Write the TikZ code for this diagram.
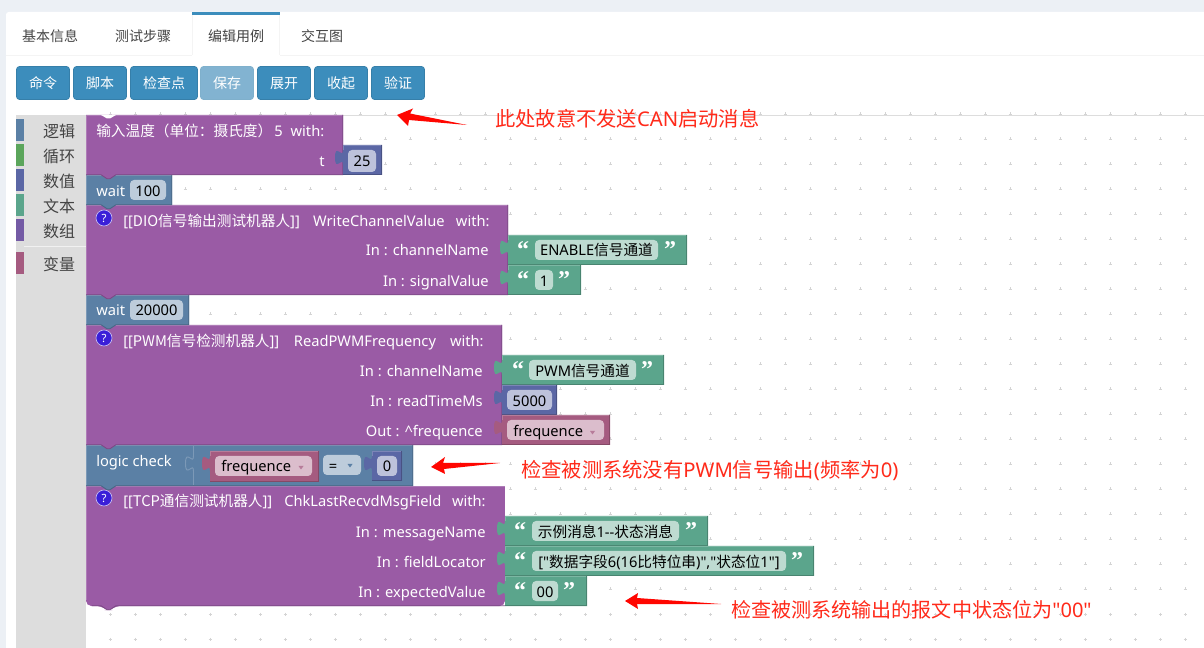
\documentclass[tikz,border=0pt]{standalone}
\usepackage{fontspec}
\setmainfont{Noto Sans}
\newfontfamily\plainlatin{Noto Sans}
\newfontfamily\cjk{Noto Sans CJK SC}
\newfontfamily\quotefont{Liberation Serif}[BoldFont={Liberation Serif Bold}]
\newcommand{\zh}[1]{{\cjk #1}}
\definecolor{pageBg}{HTML}{ECF0F5}
\definecolor{tabLine}{HTML}{F4F4F4}
\definecolor{btnBlue}{HTML}{3C8DBC}
\definecolor{btnEdge}{HTML}{367FA9}
\definecolor{btnPale}{HTML}{82B3D1}
\definecolor{btnPaleEdge}{HTML}{7FB0CC}
\definecolor{boxGrey}{HTML}{DDDDDD}
\definecolor{gridDot}{HTML}{D4D4D4}
\definecolor{tabText}{HTML}{444444}
\definecolor{purpleB}{HTML}{9A5BA5}
\definecolor{purpleL}{HTML}{AE7CB7}
\definecolor{purpleD}{HTML}{7B4984}
\definecolor{steelB}{HTML}{5B80A5}
\definecolor{steelL}{HTML}{7C99B7}
\definecolor{steelD}{HTML}{496684}
\definecolor{steelF}{HTML}{BDCCDB}
\definecolor{numB}{HTML}{5B67A5}
\definecolor{numL}{HTML}{7C85B7}
\definecolor{numD}{HTML}{495284}
\definecolor{numF}{HTML}{BDC2DB}
\definecolor{txtB}{HTML}{5BA58C}
\definecolor{txtL}{HTML}{7CB7A3}
\definecolor{txtD}{HTML}{498470}
\definecolor{txtF}{HTML}{BEDBD1}
\definecolor{varB}{HTML}{A55B80}
\definecolor{varL}{HTML}{B77C99}
\definecolor{varD}{HTML}{844966}
\definecolor{varF}{HTML}{DBBDCC}
\definecolor{loopC}{HTML}{5BA55B}
\definecolor{listC}{HTML}{745BA5}
\definecolor{annot}{HTML}{FF2A1A}
\definecolor{helpC}{HTML}{3A1FD8}
\newcommand{\bodyfont}{\plainlatin\fontsize{11}{13}\selectfont}
\tikzset{
  x=0.75pt,y=-0.75pt,
  tabtxt/.style={anchor=base,inner sep=0pt,yshift=-.75pt,text=tabText,font=\fontsize{10.5}{12}\selectfont},
  btn/.style={draw=btnEdge,fill=btnBlue,rounded corners=2.2pt,line width=.5pt},
  btntxt/.style={anchor=base,inner sep=0pt,yshift=-.75pt,text=white,font=\fontsize{10.5}{12}\selectfont},
  toollab/.style={anchor=base,inner sep=0pt,yshift=-1.1pt,text=tabText,font=\fontsize{12}{14}\selectfont},
  wl/.style={anchor=base west,inner sep=0pt,yshift=-.75pt,text=white,font=\bodyfont},
  wr/.style={anchor=base east,inner sep=0pt,yshift=-.75pt,text=white,font=\bodyfont},
  fl/.style={anchor=base,inner sep=0pt,yshift=-.75pt,text=black,font=\bodyfont},
  fw/.style={anchor=base west,inner sep=0pt,yshift=-.75pt,text=black,font=\bodyfont},
  qm/.style={anchor=base,inner sep=0pt,text=white,font=\quotefont\bfseries\fontsize{18}{18}\selectfont},
  note/.style={anchor=base west,inner sep=0pt,yshift=-1.1pt,text=annot,font=\plainlatin\fontsize{15.2}{18}\selectfont},
  arrowshape/.style={fill=red!95!orange,draw=none},
}
% stack block: x1,y1,x2,y2,colour prefix ; with bottom connector tab
\newcommand{\stackblk}[5]{%
  \fill[#5B] (#1,#2) -- (#3,#2) -- (#3,#4) -- (#1+30,#4) -- (#1+24,#4+4) -- (#1+21,#4+4) -- (#1+15,#4) -- (#1,#4) -- cycle;
  \draw[#5L,line width=.6pt] (#1+.4,#4) -- (#1+.4,#2+.4) -- (#3,#2+.4);
  \draw[#5D,line width=.6pt] (#3-.3,#2) -- (#3-.3,#4-.3) -- (#1+30,#4-.3) -- (#1+24,#4+3.7) -- (#1+21,#4+3.7) -- (#1+15,#4-.3) -- (#1,#4-.3);
}
% value block with output tab at the left: x1,y1,x2,y2,colour prefix
\newcommand{\valblk}[5]{%
  \fill[#5B] (#1,#2) -- (#3,#2) -- (#3,#4) -- (#1,#4) -- (#1,#2+20) .. controls (#1,#2+10) and (#1-8,#2+28) .. (#1-8,#2+12.5) .. controls (#1-8,#2-3) and (#1,#2+15) .. (#1,#2+5) -- cycle;
  \draw[#5L,line width=.6pt] (#1+.4,#2+5) -- (#1+.4,#2+.4) -- (#3,#2+.4);
  \draw[#5D,line width=.6pt] (#3-.3,#2) -- (#3-.3,#4-.3) -- (#1,#4-.3);
}
\newcommand{\fieldbox}[5]{\fill[#5,rounded corners=3pt] (#1,#2) rectangle (#3,#4);}
\newcommand{\helpicon}[2]{%
  \node[circle,draw=white!70!helpC,line width=.5pt,fill=helpC,minimum size=12pt,inner sep=0pt,text=white,font=\bfseries\fontsize{8.5}{8.5}\selectfont] (#1) at #2 {?};}
\newcommand{\quotes}[4]{% name, x-left, x-right, ytop
  \node[qm] (#1a) at (#2,#4+23) {“};
  \node[qm] (#1b) at (#3,#4+23) {”};}
\begin{document}
\begin{tikzpicture}
\useasboundingbox (0,0) rectangle (1204,648);
\fill[pageBg] (0,0) rectangle (1204,648);
\fill[white,rounded corners=2pt] (6,12) rectangle (1210,660);
% tabs
\draw[tabLine,line width=.75pt] (6,55.5) -- (192,55.5) (280,55.5) -- (1204,55.5);
\draw[tabLine,line width=.75pt] (192.5,15) -- (192.5,55) (279.5,15) -- (279.5,55);
\fill[btnBlue] (192,12) rectangle (280,15);
\node[tabtxt] (tabA) at (50,41) {\zh{基本信息}};
\node[tabtxt] (tabB) at (143,41) {\zh{测试步骤}};
\node[tabtxt] (tabC) at (236,41) {\zh{编辑用例}};
\node[tabtxt] (tabD) at (322,41) {\zh{交互图}};
% buttons
\draw[btn] (16.5,66.5) rectangle (69.5,99.5);
\draw[btn] (73.5,66.5) rectangle (126.5,99.5);
\draw[btn] (130.5,66.5) rectangle (197.5,99.5);
\draw[btn,draw=btnPaleEdge,fill=btnPale] (200.5,66.5) rectangle (253.5,99.5);
\draw[btn] (257.5,66.5) rectangle (310.5,99.5);
\draw[btn] (314.5,66.5) rectangle (367.5,99.5);
\draw[btn] (371.5,66.5) rectangle (424.5,99.5);
\node[btntxt] (btnA) at (43,88) {\zh{命令}};
\node[btntxt] (btnB) at (100,88) {\zh{脚本}};
\node[btntxt] (btnC) at (164,88) {\zh{检查点}};
\node[btntxt] (btnD) at (227,88) {\zh{保存}};
\node[btntxt] (btnE) at (284,88) {\zh{展开}};
\node[btntxt] (btnF) at (341,88) {\zh{收起}};
\node[btntxt] (btnG) at (398,88) {\zh{验证}};
% workspace
\draw[boxGrey,line width=.75pt] (86,115.5) -- (1204,115.5);
\foreach \gx in {110,135,...,1185}
  \foreach \gy in {114,139,...,639}
    \draw[gridDot,line width=.55pt] (\gx-1.5,\gy) -- (\gx+1.5,\gy) (\gx,\gy-1.5) -- (\gx,\gy+1.5);
% toolbox
\fill[boxGrey] (16,115) rectangle (86,648);
\fill[steelB] (16,119) rectangle (24,141);
\fill[loopC] (16,144) rectangle (24,166);
\fill[numB] (16,169) rectangle (24,191);
\fill[txtB] (16,194) rectangle (24,216);
\fill[listC] (16,219) rectangle (24,241);
\draw[white!60!boxGrey,line width=.6pt] (24,246.5) -- (86,246.5);
\fill[varB] (16,252) rectangle (24,274);
\node[toollab] (tbA) at (59,136) {\zh{逻辑}};
\node[toollab] (tbB) at (59,161) {\zh{循环}};
\node[toollab] (tbC) at (59,186) {\zh{数值}};
\node[toollab] (tbD) at (59,211) {\zh{文本}};
\node[toollab] (tbE) at (59,236) {\zh{数组}};
\node[toollab] (tbF) at (59,269) {\zh{变量}};
% ---- stack, last first so that each connector tab lies over the next block
% B4
\fill[purpleB,rounded corners=4pt] (86,590) -- (86,606) -- (101,606) -- (107,610) -- (110,610) -- (116,606) -- (505,606) -- (505,590) -- cycle;
\fill[purpleB] (86,486) rectangle (505,600);
\draw[purpleL,line width=.6pt] (86.4,600) -- (86.4,486.4) -- (505,486.4);
\draw[purpleD,line width=.6pt] (505,605.7) -- (116,605.7) -- (110,609.7) -- (107,609.7) -- (101,605.7) -- (92,605.7);
\valblk{505}{516}{708}{546}{txt}
\valblk{505}{546}{814}{576}{txt}
\valblk{505}{576}{587}{606}{txt}
\fieldbox{532}{521}{679}{541}{txtF}
\fieldbox{532}{551}{786}{571}{txtF}
\fieldbox{532}{581}{558}{601}{txtF}
\quotes{qA}{520}{691}{516}
\quotes{qB}{520}{797}{546}
\quotes{qC}{520}{569}{576}
\helpicon{hD}{(104,498)}
\node[wl] (tD) at (123,506) {[[\zh{TCP通信测试机器人}]]\hspace{9pt}ChkLastRecvdMsgField\hspace{8pt}with:};
\node[wr] (lD1) at (486,537) {In : messageName};
\node[wr] (lD2) at (486,567) {In : fieldLocator};
\node[wr] (lD3) at (486,597) {In : expectedValue};
\node[fl] (vD1) at (605.5,537) {\zh{示例消息}1--\zh{状态消息}};
\node[fl] (vD2) at (659,567) {["\zh{数据字段}6(16\zh{比特位串})","\zh{状态位}1"]};
\node[fl] (vD3) at (545,597) {00};
% logic check
\stackblk{86}{445}{413}{486}{steel}
\draw[steelL,line width=.7pt] (193.5,446) -- (193.5,451) (193.5,471) -- (193.5,485);
\draw[steelL,line width=.7pt] (193.5,471) .. controls (193.5,461) and (185.5,479) .. (185.5,463.5) .. controls (185.5,448) and (193.5,466) .. (193.5,456) -- (193.5,451);
\valblk{210}{451}{319}{482}{var}
\fieldbox{215}{456}{312}{476}{varF}
\node[fw] (vL1) at (221,471) {frequence};
\fill[varB!80!white] (298.5,466) -- (303.5,466) -- (301,469.5) -- cycle;
\fieldbox{323}{455}{361}{475}{steelF}
\node[fl] (vL2) at (333,471) {=};
\fill[steelB] (347.5,464) -- (352.5,464) -- (350,467.5) -- cycle;
\valblk{372}{451}{402}{481}{num}
\fieldbox{377}{456}{397}{476}{numF}
\node[fl] (vL3) at (387,471) {0};
\node[wl] (tL) at (96,466) {logic check};
% B3
\stackblk{86}{325}{502}{445}{purple}
\valblk{502}{355}{664}{385}{txt}
\valblk{502}{385}{557}{415}{num}
\valblk{502}{415}{610}{445}{var}
\fieldbox{529}{360}{636}{380}{txtF}
\fieldbox{507}{390}{552}{410}{numF}
\fieldbox{507}{420}{604}{440}{varF}
\quotes{qD}{518}{647}{355}
\helpicon{hC}{(104,338)}
\node[wl] (tC) at (123,346) {[[\zh{PWM信号检测机器人}]]\hspace{11pt}ReadPWMFrequency\hspace{10.5pt}with:};
\node[wr] (lC1) at (483,376) {In : channelName};
\node[wr] (lC2) at (483,406) {In : readTimeMs};
\node[wr] (lC3) at (483,436) {Out : \textasciicircum frequence};
\node[fl] (vC1) at (582.5,376) {PWM\zh{信号通道}};
\node[fl] (vC2) at (529.5,406) {5000};
\node[fw] (vC3) at (513,436) {frequence};
\fill[varB!80!white] (590,431) -- (595,431) -- (592.5,434.5) -- cycle;
% wait 20000
\stackblk{86}{295}{189}{325}{steel}
\fieldbox{130}{300}{183}{320}{steelF}
\node[wl] (tW2) at (96,315) {wait};
\node[fl] (vW2) at (156.5,315) {20000};
% B2
\stackblk{86}{205}{508}{295}{purple}
\valblk{508}{235}{687}{265}{txt}
\valblk{508}{265}{581}{295}{txt}
\fieldbox{535}{240}{658}{260}{txtF}
\fieldbox{535}{270}{553}{290}{txtF}
\quotes{qE}{523}{670}{235}
\quotes{qF}{523}{564}{265}
\helpicon{hB}{(104,218)}
\node[wl] (tB) at (123,226) {[[\zh{DIO信号输出测试机器人}]]\hspace{10pt}WriteChannelValue\hspace{8.5pt}with:};
\node[wr] (lB1) at (489,255) {In : channelName};
\node[wr] (lB2) at (489,286) {In : signalValue};
\node[fl] (vB1) at (596.5,255) {ENABLE\zh{信号通道}};
\node[fl] (vB2) at (544,286) {1};
% wait 100
\stackblk{86}{175}{172}{205}{steel}
\fieldbox{130}{180}{166}{200}{steelF}
\node[wl] (tW1) at (96,196) {wait};
\node[fl] (vW1) at (148,196) {100};
% B1
\stackblk{86}{115}{343}{175}{purple}
\fill[white] (101,115) -- (107,118.5) -- (110,118.5) -- (116,115) -- cycle;
\valblk{343}{145}{382}{175}{num}
\fieldbox{348}{150}{376}{172}{numF}
\node[wl] (tA) at (96,136) {\zh{输入温度（单位：摄氏度）}\hspace{1.5pt}5\hspace{6pt}with:};
\node[wr] (lA1) at (325,166) {t};
\node[fl] (vA1) at (362,166) {25};
% annotations
\coordinate (a1tip) at (397,115);
\coordinate (a1top) at (413,108.5);
\coordinate (a1in) at (410,113.5);
\coordinate (a1tail) at (467,125);
\coordinate (a1low) at (409,120);
\coordinate (a1bot) at (408,126);
\fill[arrowshape] (a1tip) -- (a1top) -- (a1in) -- (a1tail) -- (a1low) -- (a1bot) -- cycle;
\coordinate (a2tip) at (431,467);
\coordinate (a2top) at (445,457);
\coordinate (a2in) at (443,463);
\coordinate (a2tail) at (500,463);
\coordinate (a2low) at (444,469);
\coordinate (a2bot) at (445,474);
\fill[arrowshape] (a2tip) -- (a2top) -- (a2in) -- (a2tail) -- (a2low) -- (a2bot) -- cycle;
\coordinate (a3tip) at (625,601);
\coordinate (a3top) at (638,593);
\coordinate (a3in) at (637,598);
\coordinate (a3tail) at (721,604);
\coordinate (a3low) at (637,604);
\coordinate (a3bot) at (638,609);
\fill[arrowshape] (a3tip) -- (a3top) -- (a3in) -- (a3tail) -- (a3low) -- (a3bot) -- cycle;
\node[note] (n1) at (495,125) {\zh{此处故意不发送}CAN\zh{启动消息}};
\node[note] (n2) at (521,476) {\zh{检查被测系统没有}PWM\zh{信号输出}(\zh{频率为}0)};
\node[note,font=\plainlatin\fontsize{15.05}{18}\selectfont] (n3) at (731,616) {\zh{检查被测系统输出的报文中状态位为}"00"};
\end{tikzpicture}
\end{document}
